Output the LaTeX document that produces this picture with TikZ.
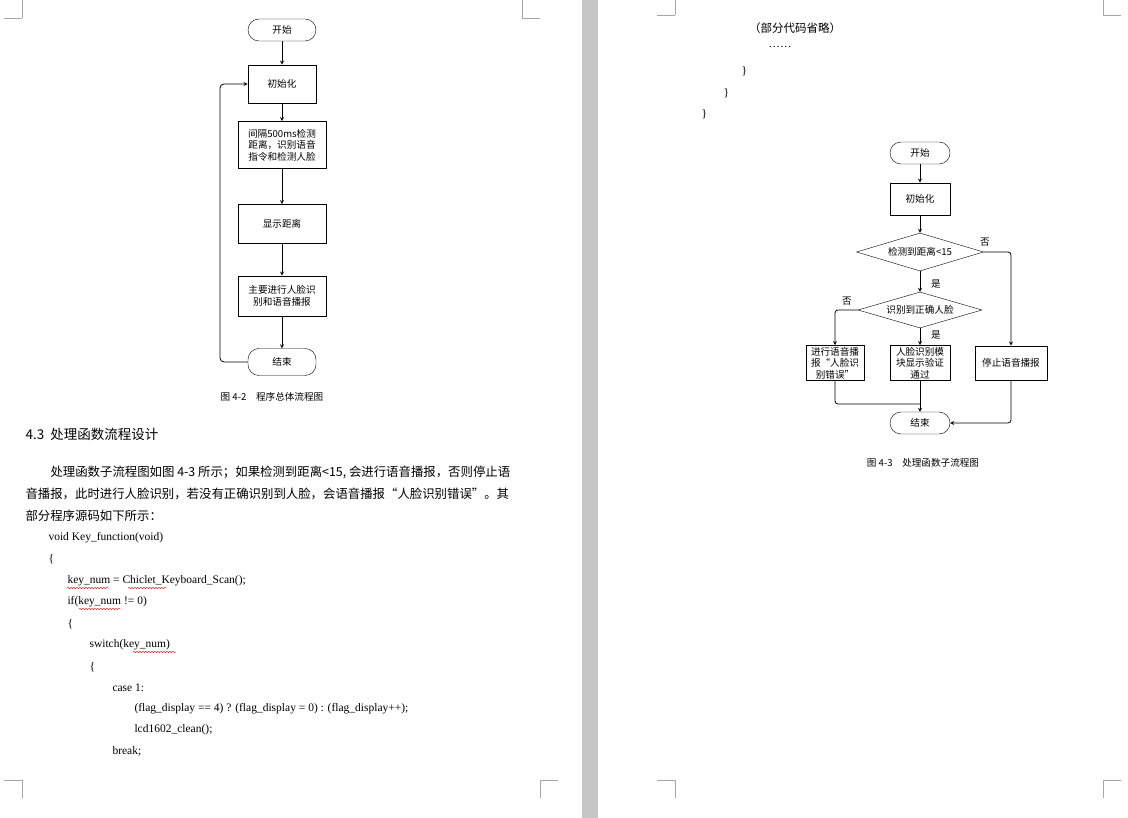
\documentclass[tikz,border=0pt]{standalone}
\usepackage{fontspec}
\setmainfont{Liberation Serif}
\newfontfamily\cjk{Noto Sans CJK SC}
\usetikzlibrary{shapes.geometric,decorations.pathmorphing}
\begin{document}
\begin{tikzpicture}[x=1pt,y=-1pt,
 fc/.style={font=\cjk\fontsize{9.6}{11.5}\selectfont},
 box/.style={draw,thick,fc,align=center,inner sep=1pt},
 term/.style={draw,rounded corners=11pt,fc,minimum height=22pt},
 dia/.style={draw,diamond,aspect=3.4,fc,inner sep=1pt},
 ar/.style={->,>=stealth,thick},
 ln/.style={thick},
 lab/.style={fc},
 body/.style={anchor=west,font=\cjk\fontsize{12.4}{14}\selectfont},
 code/.style={anchor=west,font=\fontsize{11.5}{13}\selectfont},
 cmark/.style={gray!70,line width=0.5pt},
 wavy/.style={red,decorate,decoration={snake,amplitude=0.8pt,segment length=3pt},line width=0.4pt}]
\useasboundingbox (0,0) rectangle (1128,818);
\fill[gray!45] (582,0) rectangle (598,818);
% corner marks
\foreach \x/\y/\dx/\dy in {22/18/-1/0,22/18/0/-1,522/18/1/0,522/18/0/-1,22/780/-1/0,22/780/0/1,540/780/1/0,540/780/0/1,
 675/15/-1/0,675/15/0/-1,1103/15/1/0,1103/15/0/-1,675/780/-1/0,675/780/0/1,1103/780/1/0,1103/780/0/1}
 \draw[cmark] (\x,\y) -- ++(18*\dx,18*\dy);
% ===== left flowchart
\node[term,minimum width=68pt] (s1) at (282,30) {开始};
\node[box,minimum width=68pt,minimum height=38pt] (i1) at (282,84) {初始化};
\node[box,minimum width=88pt,minimum height=47pt] (d1) at (282,145) {间隔500ms检测\\距离，识别语音\\指令和检测人脸};
\node[box,minimum width=88pt,minimum height=39pt] (x1) at (282,224) {显示距离};
\node[box,minimum width=88pt,minimum height=40pt] (p1) at (282,296) {主要进行人脸识\\别和语音播报};
\node[term,minimum width=68pt,minimum height=27pt] (e1) at (282,362) {结束};
\draw[ar] (s1) -- (i1);
\draw[ar] (i1) -- (d1);
\draw[ar] (d1) -- (x1);
\draw[ar] (x1) -- (p1);
\draw[ar] (p1) -- (e1);
\coordinate (lb) at (220,362);
\coordinate (lt) at (220,84);
\draw[ar,rounded corners=4pt] (e1.west) -- (lb) -- (lt) -- (i1.west);
\node[lab] (c1) at (272,397) {图 4-2\quad 程序总体流程图};
% ===== left text
\node[anchor=west,font=\cjk\fontsize{13.5}{15}\selectfont] (h) at (22,434) {4.3\ \ 处理函数流程设计};
\node[body] (t1) at (47,472) {处理函数子流程图如图 4-3 所示；如果检测到距离<15, 会进行语音播报，否则停止语};
\node[body] (t2) at (22,494) {音播报，此时进行人脸识别，若没有正确识别到人脸，会语音播报“人脸识别错误”。其};
\node[body] (t3) at (22,516) {部分程序源码如下所示：};
\node[code] (k1) at (45,538) {void Key\_function(void)};
\node[code] (k2) at (45,559) {\{};
\node[code] (k3) at (64,581) {key\_num = Chiclet\_Keyboard\_Scan();};
\node[code] (k4) at (64,602) {if(key\_num != 0)};
\node[code] (k5) at (64,624) {\{};
\node[code] (k6) at (86,645) {switch(key\_num)};
\node[code] (k7) at (86,667) {\{};
\node[code] (k8) at (109,688) {case 1:};
\node[code] (k9) at (131,709) {(flag\_display == 4) ? (flag\_display = 0) : (flag\_display++);};
\node[code] (k10) at (131,730) {lcd1602\_clean();};
\node[code] (k11) at (109,751) {break;};
\draw[wavy] (67,588) -- (109,588);
\draw[wavy] (128,588) -- (166,588);
\draw[wavy] (79,609) -- (121,609);
\draw[wavy] (133,652) -- (176,652);
% ===== right page text
\node[anchor=center,font=\cjk\fontsize{11.5}{13}\selectfont] (r1) at (795,28) {（部分代码省略）};
\node[code] (r2) at (765,47) {……};
\node[code] (r3) at (738,71) {\}};
\node[code] (r4) at (720,93) {\}};
\node[code] (r5) at (698,114) {\}};
% ===== right flowchart
\node[term,minimum width=60pt,minimum height=22pt] (s2) at (920,153) {开始};
\node[box,minimum width=60pt,minimum height=32pt] (i2) at (920,199) {初始化};
\node[dia,minimum width=127pt,minimum height=38pt] (q1) at (920,252) {检测到距离<15};
\node[dia,minimum width=124pt,minimum height=36pt] (q2) at (920,310) {识别到正确人脸};
\node[box,minimum width=58pt,minimum height=35pt] (a2) at (835,363) {进行语音播\\报“人脸识\\别错误”};
\node[box,minimum width=60pt,minimum height=35pt] (b2) at (920,363) {人脸识别模\\块显示验证\\通过};
\node[box,minimum width=72pt,minimum height=34pt] (c2) at (1011,363) {停止语音播报};
\node[term,minimum width=60pt,minimum height=22pt] (e2) at (920,423) {结束};
\draw[ar] (s2) -- (i2);
\draw[ar] (i2) -- (q1);
\draw[ar] (q1) -- (q2);
\draw[ar] (q2) -- (b2);
\draw[ar] (b2) -- (e2);
\coordinate (q1r) at (1011,252);
\draw[ar,rounded corners=3pt] (q1.east) -- (q1r) -- (c2.north);
\coordinate (q2l) at (835,310);
\draw[ar,rounded corners=3pt] (q2.west) -- (q2l) -- (a2.north);
\coordinate (ab) at (835,404);
\coordinate (am) at (920,404);
\draw[ln,rounded corners=3pt] (a2.south) -- (ab) -- (am);
\coordinate (cb) at (1011,423);
\draw[ar,rounded corners=3pt] (c2.south) -- (cb) -- (e2.east);
\node[lab] (n1) at (985,242) {否};
\node[lab] (y1) at (936,284) {是};
\node[lab] (n2) at (847,301) {否};
\node[lab] (y2) at (936,335) {是};
\node[lab] (c3) at (923,463) {图 4-3\quad 处理函数子流程图};
\end{tikzpicture}
\end{document}
